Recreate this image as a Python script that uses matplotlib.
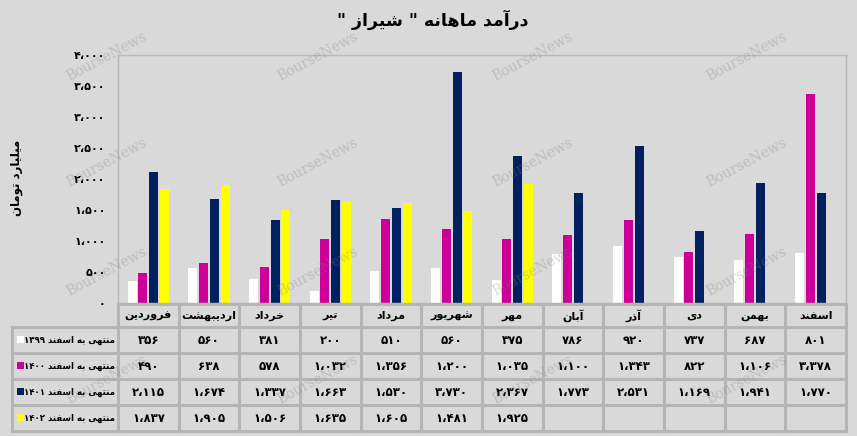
import re
import numpy as np
import matplotlib.pyplot as plt
from matplotlib.patches import Rectangle

months = ['فروردین', 'اردیبهشت', 'خرداد', 'تیر', 'مرداد', 'شهریور',
          'مهر', 'آبان', 'آذر', 'دی', 'بهمن', 'اسفند']
rev_1399 = [356, 560, 381, 200, 510, 560, 375, 786, 920, 737, 687, 801]
rev_1400 = [490, 638, 578, 1032, 1356, 1200, 1035, 1100, 1343, 822, 1106, 3378]
rev_1401 = [2115, 1674, 1337, 1663, 1530, 3730, 2367, 1773, 2531, 1169, 1941, 1770]
rev_1402 = [1837, 1905, 1506, 1635, 1605, 1481, 1925]
series_names = ['منتهی به اسفند ۱۳۹۹', 'منتهی به اسفند ۱۴۰۰',
                'منتهی به اسفند ۱۴۰۱', 'منتهی به اسفند ۱۴۰۲']
colors = ['#ffffff', '#cc0099', '#002060', '#ffff00']
yticks = np.arange(0, 4001, 500)
title = 'درآمد ماهانه " شیراز "'
ylabel = 'میلیارد تومان'

bg = '#d9d9d9'
grid_c = '#b5b5b5'
plt.rcParams['font.family'] = 'DejaVu Sans'

# presentation forms: isolated, final, initial, medial
FORMS = {
    'ا': (0xFE8D, 0xFE8E), 'آ': (0xFE81, 0xFE82),
    'د': (0xFEA9, 0xFEAA), 'ذ': (0xFEAB, 0xFEAC),
    'ر': (0xFEAD, 0xFEAE), 'ز': (0xFEAF, 0xFEB0), 'و': (0xFEED, 0xFEEE),
    'ب': (0xFE8F, 0xFE90, 0xFE91, 0xFE92), 'ت': (0xFE95, 0xFE96, 0xFE97, 0xFE98),
    'خ': (0xFEA5, 0xFEA6, 0xFEA7, 0xFEA8), 'س': (0xFEB1, 0xFEB2, 0xFEB3, 0xFEB4),
    'ش': (0xFEB5, 0xFEB6, 0xFEB7, 0xFEB8), 'ف': (0xFED1, 0xFED2, 0xFED3, 0xFED4),
    'ق': (0xFED5, 0xFED6, 0xFED7, 0xFED8), 'ل': (0xFEDD, 0xFEDE, 0xFEDF, 0xFEE0),
    'م': (0xFEE1, 0xFEE2, 0xFEE3, 0xFEE4), 'ن': (0xFEE5, 0xFEE6, 0xFEE7, 0xFEE8),
    'ه': (0xFEE9, 0xFEEA, 0xFEEB, 0xFEEC), 'ی': (0xFEEF, 0xFEF0, 0xFEF3, 0xFEF4),
}
DIGITS = '۰۱۲۳۴۵۶۷۸۹'


def fa(s):
    out = []
    for i, c in enumerate(s):
        if c not in FORMS:
            out.append(c)
            continue
        f = FORMS[c]
        prev = s[i - 1] if i > 0 else ''
        nxt = s[i + 1] if i + 1 < len(s) else ''
        pj = prev in FORMS and len(FORMS[prev]) == 4
        nj = nxt in FORMS and len(f) == 4
        if pj and nj:
            g = f[3]
        elif pj:
            g = f[1]
        elif nj:
            g = f[2]
        else:
            g = f[0]
        out.append(chr(g))
    t = ''.join(out)
    runs = re.findall('[' + DIGITS + '،]+|[^' + DIGITS + '،]+', t)
    return ''.join(r if r[0] in DIGITS else r[::-1] for r in reversed(runs))


def fa_num(v):
    s = f'{int(v):,}'.replace(',', '،')
    return s.translate(str.maketrans('0123456789', DIGITS))


fig = plt.figure(figsize=(8.57, 4.36), dpi=100, facecolor=bg)
ax = fig.add_axes([118/857, 133/436, 728/857, 248/436], facecolor=bg)

x = np.arange(len(months))
step = 0.178
width = 0.148
data = [rev_1399, rev_1400, rev_1401, rev_1402]
for k, vals in enumerate(data):
    ax.bar(x[:len(vals)] + (k - 1.5) * step, vals, width, color=colors[k], zorder=2)

ax.set_xlim(-0.5, len(months) - 0.5)
ax.set_ylim(0, 4000)
ax.set_yticks(yticks)
ax.set_yticklabels([fa_num(v) for v in yticks], fontsize=8, fontweight='bold')
ax.tick_params(axis='y', length=0, pad=9)
ax.set_xticks([])
for sp in ax.spines.values():
    sp.set_color('#b8b8b8')
    sp.set_linewidth(1)

fig.text(433/857, 1 - 20/436, fa(title), ha='center', va='center',
         fontsize=12.5, fontweight='bold')
fig.text(17/857, 1 - 178/436, fa(ylabel), ha='center', va='center',
         rotation=90, fontsize=8.5, fontweight='bold')

# data table under the plot, laid out in pixels
tax = fig.add_axes([0, 0, 1, 1])
tax.set_xlim(0, 857)
tax.set_ylim(436, 0)
tax.axis('off')

x0, xl = 12, 118
col_w = 728 / 12
row_top = [304, 327, 353, 379, 405, 431]


def cell(x, y, w, h, txt, ha='center', tx=None, size=8.5):
    tax.add_patch(Rectangle((x, y), w, h, facecolor=bg, edgecolor=grid_c, lw=2.2))
    if txt:
        tax.text(x + w / 2 if tx is None else tx, y + h / 2 + 0.5, txt, ha=ha, va='center',
                 fontsize=size, fontweight='bold')


for j, m in enumerate(months):
    cell(xl + j * col_w, row_top[0], col_w, row_top[1] - row_top[0], fa(m), size=8)
for i, vals in enumerate(data):
    y, h = row_top[i + 1], row_top[i + 2] - row_top[i + 1]
    cell(x0, y, xl - x0, h, fa(series_names[i]), ha='right', tx=xl - 3, size=6.2)
    tax.add_patch(Rectangle((17, y + h / 2 - 4.5), 7, 7, facecolor=colors[i], edgecolor='none'))
    for j in range(len(months)):
        txt = fa_num(vals[j]) if j < len(vals) else ''
        cell(xl + j * col_w, y, col_w, h, txt)

# watermark
for wx in [107, 318, 533, 747]:
    for wy in [57, 163, 272, 380]:
        fig.text(wx/857, 1 - wy/436, 'BourseNews', family='DejaVu Serif', fontsize=10,
                 color='gray', alpha=0.3, rotation=28, ha='center', va='center', zorder=10)

fig.savefig('out.png', dpi=100, facecolor=bg)
